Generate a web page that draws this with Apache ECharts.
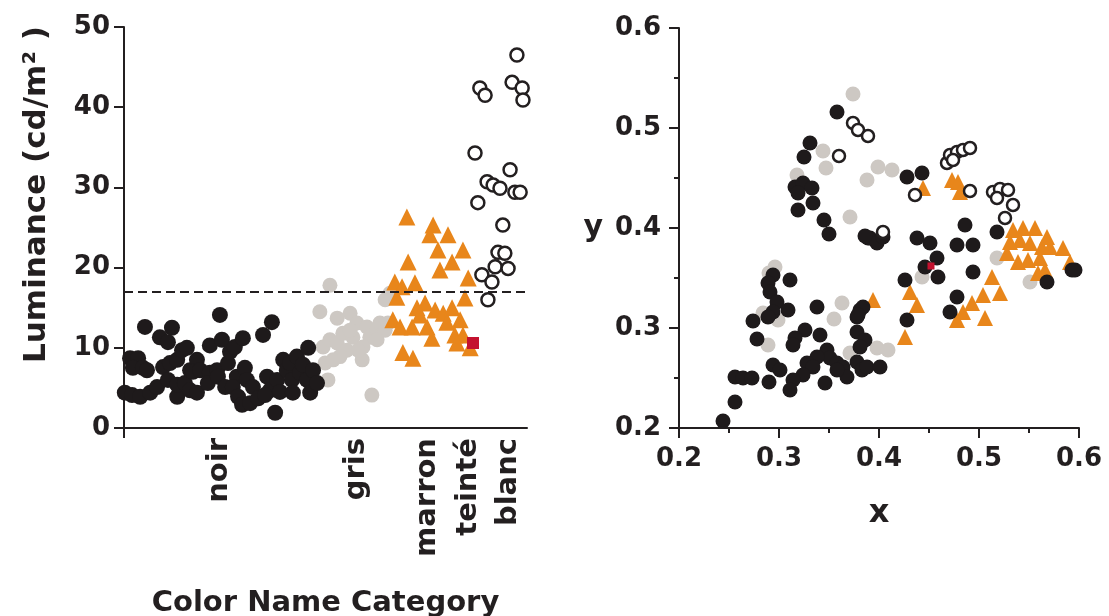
<!DOCTYPE html>
<html>
<head>
<meta charset="utf-8">
<script src="https://cdn.jsdelivr.net/npm/echarts@6/dist/echarts.min.js"></script>
<style>
html,body{margin:0;padding:0;background:#fff}
#chart{width:1109px;height:616px}
</style>
</head>
<body>
<div id="chart"></div>
<script>
// categories (left panel) - position along the category axis
var categoryNames = ['noir', 'gris', 'marron', 'teinté', 'blanc'];
var categoryPos = [23.8, 57.8, 75.4, 85.6, 95.3];
var lumTicks = [0, 10, 20, 30, 40, 50];
var chromaTicks = [0.2, 0.3, 0.4, 0.5, 0.6];
var lumThreshold = 17;

// left: [position, luminance cd/m2]
var noirLum = [[0.2,4.4],[1.5,8.7],[3.5,8.7],[2.2,7.5],[4.7,7.5],[5.7,7.2],[2.0,4.1],[4.0,3.9],[5.2,12.6],[6.5,4.4],
  [8.2,5.1],[8.9,11.3],[11.9,12.5],[10.9,10.7],[9.7,7.6],[11.4,8.1],[13.2,8.5],[14.4,9.7],[15.6,10.0],[13.2,3.9],
  [10.9,6.0],[13.2,5.4],[15.1,5.6],[16.4,7.2],[18.1,8.5],[17.1,7.0],[18.9,7.2],[16.4,4.7],[18.1,4.4],[21.3,10.3],
  [21.3,6.9],[20.8,5.6],[23.1,7.2],[23.8,14.1],[24.3,11.0],[23.3,6.4],[25.1,5.1],[25.8,8.1],[26.3,9.5],[27.5,10.1],
  [28.0,6.4],[27.0,5.1],[28.3,3.9],[29.5,11.2],[30.0,7.5],[30.5,6.0],[29.3,2.9],[32.0,5.1],[31.3,3.1],[33.3,3.7],
  [34.5,11.6],[35.5,6.4],[36.2,4.7],[35.0,4.1],[36.7,13.2],[37.5,1.9],[38.0,6.0],[38.7,4.5],[39.5,8.5],[40.4,7.2],
  [41.2,8.1],[41.7,6.0],[42.9,8.9],[41.9,4.4],[43.7,6.9],[44.4,7.9],[45.7,10.0],[45.4,6.0],[46.2,4.4],[46.9,7.2],
  [47.9,5.6]];
var grisLum = [[51.1,17.8],[48.6,14.5],[52.9,13.7],[56.1,14.3],[49.4,10.1],[51.1,11.0],[49.9,8.1],[50.6,6.0],[52.9,10.6],[54.3,11.8],
  [55.3,9.7],[56.8,11.3],[57.8,13.1],[59.1,8.5],[60.3,12.6],[61.0,11.3],[62.8,12.2],[63.5,13.1],[64.8,12.2],[64.8,16.0],
  [66.0,16.8],[61.5,4.1],[53.6,8.9],[59.3,10.1],[62.8,11.0],[65.5,13.1],[56.1,12.2],[58.1,9.7],[51.9,8.5]];
var marronLum = [[70.2,26.3],[76.7,25.3],[75.9,24.1],[80.4,24.1],[77.9,22.2],[84.1,22.2],[81.4,20.7],[70.5,20.7],[78.4,19.7],[85.4,18.7],
  [67.2,18.2],[69.0,17.6],[72.2,18.1],[67.7,16.3],[84.6,16.2],[74.7,15.6],[72.7,15.0],[77.2,14.7],[79.2,14.3],[81.4,15.0],
  [73.4,14.1],[66.7,13.5],[68.5,12.6],[71.5,12.6],[75.2,12.6],[80.1,13.2],[83.4,13.5],[82.1,11.6],[84.1,11.6],[76.4,11.2],
  [82.6,10.6],[85.9,10.0],[69.2,9.4],[71.7,8.7]];
var teinteLum = [[86.6,10.6]];
var blancLum = [[97.5,46.5],[88.3,42.4],[89.6,41.5],[96.3,43.1],[98.8,42.4],[99.0,40.9],[87.1,34.3],[95.8,32.2],[90.1,30.7],[91.6,30.3],
  [93.3,29.9],[97.0,29.4],[98.3,29.4],[87.8,28.1],[94.0,25.3],[92.8,21.9],[94.5,21.8],[92.1,20.1],[95.3,19.9],[88.8,19.1],
  [91.3,18.2],[90.3,16.0]];

// right: chromaticity [x, y]
var noirXY = [[0.358,0.516],[0.331,0.485],[0.325,0.471],[0.316,0.441],[0.324,0.445],[0.333,0.440],[0.319,0.435],[0.334,0.425],[0.319,0.418],[0.345,0.408],
  [0.350,0.394],[0.389,0.390],[0.428,0.451],[0.443,0.455],[0.518,0.396],[0.486,0.403],[0.478,0.383],[0.494,0.383],[0.494,0.356],[0.391,0.390],
  [0.398,0.385],[0.404,0.391],[0.386,0.392],[0.438,0.390],[0.451,0.385],[0.458,0.370],[0.446,0.361],[0.459,0.351],[0.426,0.348],[0.428,0.308],
  [0.381,0.318],[0.378,0.311],[0.478,0.331],[0.471,0.316],[0.568,0.346],[0.593,0.358],[0.596,0.358],[0.294,0.353],[0.289,0.345],[0.311,0.348],
  [0.291,0.336],[0.298,0.326],[0.294,0.316],[0.309,0.318],[0.289,0.311],[0.274,0.307],[0.278,0.289],[0.338,0.321],[0.384,0.321],[0.379,0.313],
  [0.326,0.298],[0.316,0.290],[0.314,0.283],[0.341,0.293],[0.378,0.296],[0.386,0.288],[0.381,0.281],[0.348,0.278],[0.351,0.270],[0.338,0.271],
  [0.328,0.265],[0.358,0.265],[0.364,0.261],[0.378,0.266],[0.383,0.258],[0.388,0.261],[0.401,0.261],[0.368,0.251],[0.358,0.258],[0.294,0.263],
  [0.301,0.258],[0.334,0.261],[0.324,0.253],[0.314,0.248],[0.311,0.238],[0.346,0.245],[0.256,0.251],[0.264,0.250],[0.273,0.250],[0.290,0.246],
  [0.256,0.226],[0.244,0.207]];
var grisXY = [[0.374,0.534],[0.344,0.477],[0.347,0.460],[0.318,0.453],[0.371,0.411],[0.399,0.461],[0.388,0.448],[0.413,0.458],[0.443,0.351],[0.518,0.370],
  [0.551,0.346],[0.296,0.361],[0.284,0.315],[0.299,0.308],[0.289,0.283],[0.363,0.325],[0.355,0.309],[0.398,0.280],[0.409,0.278],[0.371,0.275],
  [0.290,0.355]];
var marronXY = [[0.444,0.440],[0.473,0.448],[0.479,0.446],[0.481,0.436],[0.431,0.336],[0.438,0.323],[0.394,0.328],[0.426,0.291],[0.513,0.351],[0.504,0.333],
  [0.521,0.335],[0.484,0.316],[0.493,0.325],[0.478,0.308],[0.506,0.310],[0.534,0.398],[0.544,0.400],[0.556,0.400],[0.568,0.391],[0.531,0.386],
  [0.541,0.388],[0.551,0.385],[0.563,0.381],[0.528,0.375],[0.539,0.366],[0.549,0.368],[0.561,0.370],[0.571,0.381],[0.584,0.380],[0.591,0.366],
  [0.559,0.355],[0.566,0.358]];
var teinteXY = [[0.452,0.362]];
var blancXY = [[0.374,0.505],[0.379,0.498],[0.389,0.492],[0.360,0.472],[0.436,0.433],[0.468,0.465],[0.471,0.473],[0.478,0.476],[0.484,0.478],[0.491,0.480],
  [0.474,0.468],[0.491,0.437],[0.514,0.436],[0.521,0.439],[0.529,0.438],[0.518,0.430],[0.534,0.423],[0.526,0.410],[0.404,0.396]];

var INK = '#231f20';
var FONT = 'DejaVu Sans';
var COLORS = {noir: '#1e1a1b', gris: '#cdc8c3', marron: '#e8861b', teinte: '#c4122f'};

function txt(size){
    return {color: INK, fontFamily: FONT, fontWeight: 'bold', fontSize: size};
}

//散点系列
function scatter(data, idx, symbol, size, style){
    style.opacity = 1;
    return {
        type: 'scatter',
        xAxisIndex: idx,
        yAxisIndex: idx,
        symbol: symbol,
        symbolSize: size,
        itemStyle: style,
        silent: true,
        data: data
    };
}

function valueAxis(idx, ticks, minor){
    var ax = {
        gridIndex: idx,
        type: 'value',
        min: ticks[0],
        max: ticks[ticks.length - 1],
        interval: ticks[1] - ticks[0],
        axisLine: {lineStyle: {color: INK, width: 2}},
        axisTick: {length: 10, lineStyle: {color: INK, width: 2}},
        axisLabel: txt(26),
        splitLine: {show: false}
    };
    if(minor){
        ax.minorTick = {show: true, splitNumber: 2, length: 5, lineStyle: {color: INK, width: 2}};
        ax.axisLabel.formatter = function(v){ return v.toFixed(1); };
    }
    return ax;
}

var lumY = valueAxis(0, lumTicks, false);
lumY.axisLabel.margin = 14;
lumY.name = 'Luminance (cd/m² )';
lumY.nameLocation = 'middle';
lumY.nameGap = 72;
lumY.nameTextStyle = txt(31);
lumY.nameTextStyle.padding = [0, 0, 0, 66];

var catX = {
    gridIndex: 0,
    type: 'value',
    min: 0,
    max: 100,
    axisLine: {lineStyle: {color: INK, width: 2}},
    axisTick: {customValues: [0], length: 10, lineStyle: {color: INK, width: 2}},
    axisLabel: Object.assign(txt(29), {
        customValues: categoryPos,
        rotate: 90,
        margin: 10,
        formatter: function(v){ return categoryNames[categoryPos.indexOf(v)]; }
    }),
    splitLine: {show: false},
    name: 'Color Name Category',
    nameLocation: 'middle',
    nameGap: 161,
    nameTextStyle: txt(29)
};

var chromaX = valueAxis(1, chromaTicks, true);
chromaX.axisLabel.margin = 18;
chromaX.name = 'x';
chromaX.nameLocation = 'middle';
chromaX.nameGap = 70;
chromaX.nameTextStyle = txt(32);

var chromaY = valueAxis(1, chromaTicks, true);
chromaY.axisLabel.margin = 18;
chromaY.name = 'y';
chromaY.nameLocation = 'middle';
chromaY.nameRotate = 0;
chromaY.nameGap = 76;
chromaY.nameTextStyle = txt(30);

function openStyle(){
    return {color: '#ffffff', borderColor: INK, borderWidth: 2.5};
}

var noirLeft = scatter(noirLum, 0, 'circle', 16, {color: COLORS.noir});
noirLeft.markLine = {
    silent: true,
    symbol: ['none', 'none'],
    label: {show: false},
    lineStyle: {color: INK, type: [9, 5], width: 2},
    data: [{yAxis: lumThreshold}]
};

var option = {
    animation: false,
    backgroundColor: '#ffffff',
    grid: [
        {left: 124, top: 27, width: 403, height: 401, outerBoundsMode: 'none'},
        {left: 679, top: 28, width: 400, height: 400, outerBoundsMode: 'none'}
    ],
    xAxis: [catX, chromaX],
    yAxis: [lumY, chromaY],
    series: [
        scatter(grisLum, 0, 'circle', 15, {color: COLORS.gris}),
        noirLeft,
        scatter(marronLum, 0, 'triangle', 17, {color: COLORS.marron}),
        scatter(teinteLum, 0, 'rect', 12, {color: COLORS.teinte}),
        scatter(blancLum, 0, 'circle', 13, openStyle()),

        scatter(grisXY, 1, 'circle', 15, {color: COLORS.gris}),
        scatter(marronXY, 1, 'triangle', 16, {color: COLORS.marron}),
        scatter(noirXY, 1, 'circle', 15, {color: COLORS.noir}),
        scatter(teinteXY, 1, 'rect', 7, {color: COLORS.teinte}),
        scatter(blancXY, 1, 'circle', 12, openStyle())
    ]
};

var chart = echarts.init(document.getElementById('chart'));
chart.setOption(option);
</script>
</body>
</html>
